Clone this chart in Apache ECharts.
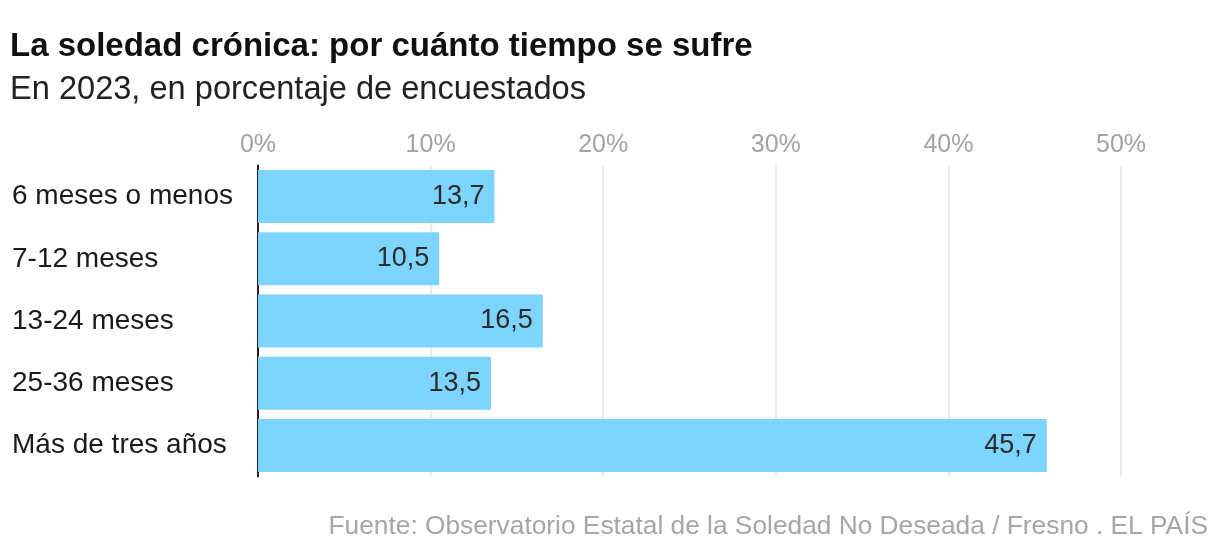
<!DOCTYPE html>
<html><head><meta charset="utf-8">
<script src="https://cdn.jsdelivr.net/npm/echarts@6/dist/echarts.min.js"></script>
<style>html,body{margin:0;padding:0;background:#fff}#c{width:1220px;height:556px}</style>
</head><body><div id="c"></div>
<script>
const categories = ["6 meses o menos", "7-12 meses", "13-24 meses", "25-36 meses", "Más de tres años"];
const values = [13.7, 10.5, 16.5, 13.5, 45.7];
const xTicks = [0, 10, 20, 30, 40, 50];
const titleText = "La soledad crónica: por cuánto tiempo se sufre";
const subtitleText = "En 2023, en porcentaje de encuestados";
const sourceText = "Fuente: Observatorio Estatal de la Soledad No Deseada / Fresno . EL PAÍS";

const FONT = "Liberation Sans";
const chart = echarts.init(document.getElementById('c'), null, {renderer: 'canvas'});
chart.setOption({
  animation: false,
  backgroundColor: '#fff',
  textStyle: {fontFamily: FONT},
  title: [
    {text: titleText, left: 5, top: 25, textStyle: {fontFamily: FONT, fontWeight: 'bold', fontSize: 33, color: '#111'}},
    {text: subtitleText, left: 5, top: 69, textStyle: {fontFamily: FONT, fontWeight: 'normal', fontSize: 32.6, color: '#222'}},
    {text: sourceText, right: 7, top: 509, textStyle: {fontFamily: FONT, fontWeight: 'normal', fontSize: 26.3, color: '#a6a6a6'}}
  ],
  grid: {left: 258, right: 99, top: 165.5, bottom: 79.5, containLabel: false},
  xAxis: {
    type: 'value', position: 'top', min: xTicks[0], max: xTicks[xTicks.length-1], interval: 10,
    axisLine: {show: false}, axisTick: {show: false},
    splitLine: {show: true, lineStyle: {color: '#e3e3e3', width: 1.5}},
    axisLabel: {formatter: '{value}%', color: '#a3a3a3', fontSize: 25, margin: 8, fontFamily: FONT}
  },
  yAxis: {
    type: 'category', data: categories, inverse: true,
    axisLine: {show: true, lineStyle: {color: '#222', width: 2}},
    axisTick: {show: false},
    axisLabel: {align: 'left', margin: 246, color: '#1a1a1a', fontSize: 28, fontFamily: FONT}
  },
  series: [{
    type: 'bar', data: values, barWidth: 53,
    itemStyle: {color: '#7dd4ff'},
    label: {show: true, position: 'insideRight', distance: 10, color: '#2b2b2b', fontSize: 27, fontFamily: FONT,
      formatter: p => String(p.value).replace('.', ',')}
  }]
});
</script></body></html>
